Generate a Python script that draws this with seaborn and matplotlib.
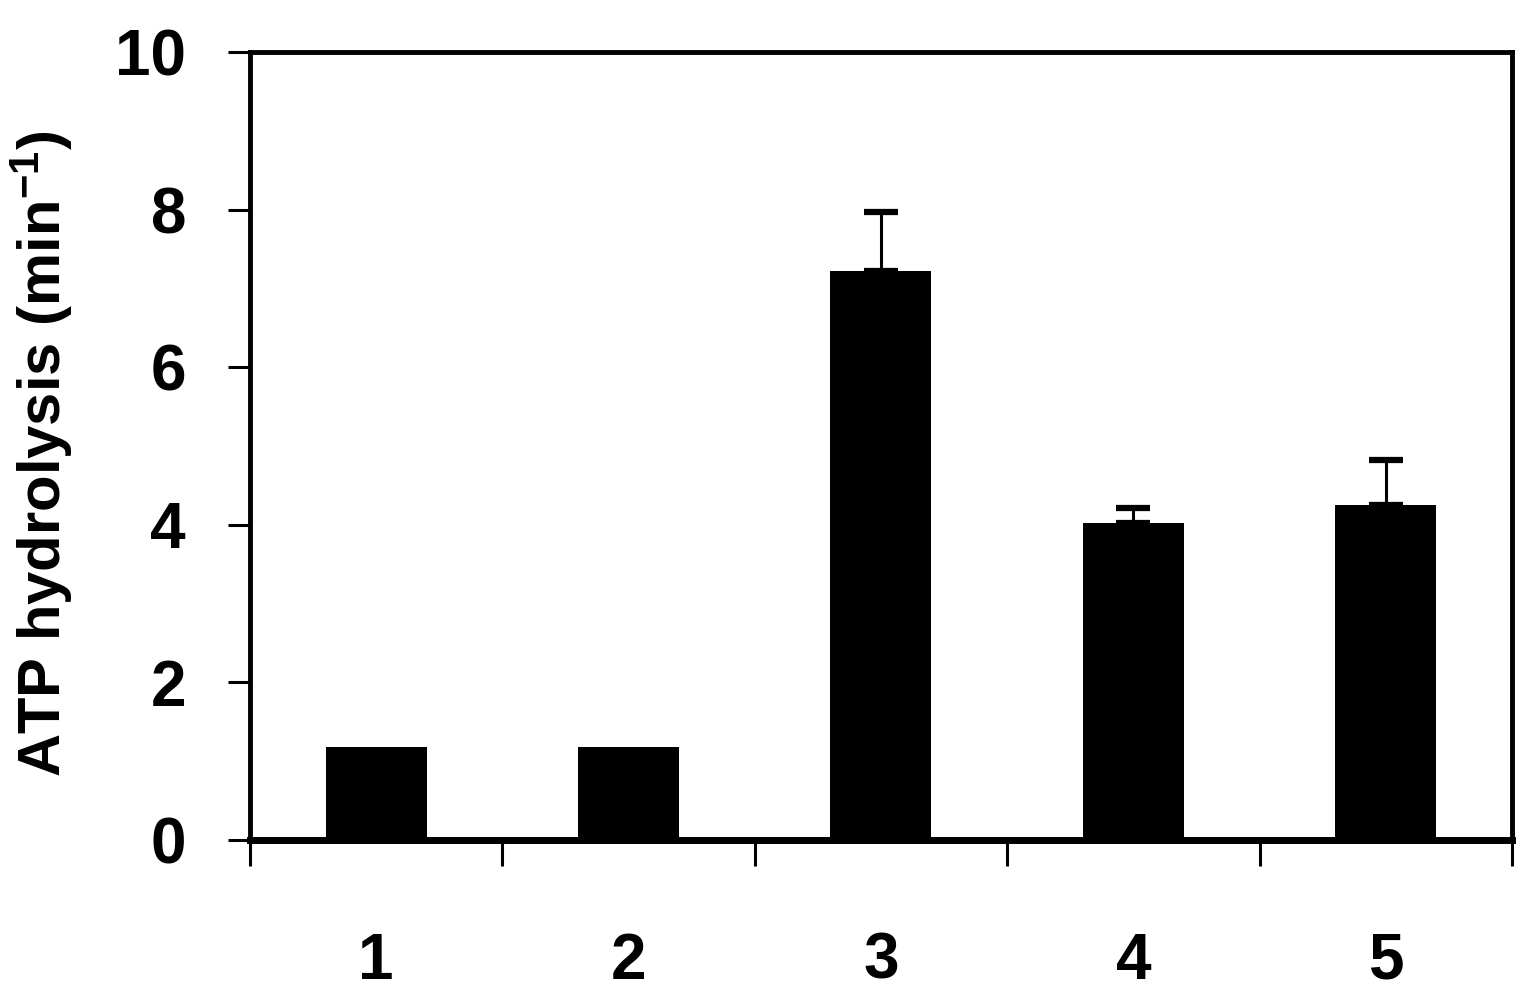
import numpy as np
import pandas as pd
import matplotlib
matplotlib.use("Agg")
import matplotlib.pyplot as plt
import seaborn as sns

# values
conditions = ["1", "2", "3", "4", "5"]
atp_rate = [1.18, 1.18, 7.22, 4.02, 4.25]
atp_err = [0.0, 0.0, 0.75, 0.19, 0.57]

df = pd.DataFrame({"condition": conditions, "rate": atp_rate})

sns.set_style("ticks")
plt.rcParams["font.family"] = ["Liberation Sans", "DejaVu Sans"]
plt.rcParams["font.weight"] = "bold"
plt.rcParams["mathtext.fontset"] = "custom"
plt.rcParams["mathtext.rm"] = "Liberation Sans:bold"
plt.rcParams["mathtext.default"] = "rm"
for k in ["text.color", "axes.labelcolor", "xtick.color", "ytick.color", "axes.edgecolor"]:
    plt.rcParams[k] = "black"

fig = plt.figure(figsize=(15.26, 10), dpi=100)
ax = fig.add_axes([0.1638, 0.16, 0.9908 - 0.1638, 0.948 - 0.16])

sns.barplot(data=df, x="condition", y="rate", color="black", width=0.4,
            saturation=1, edgecolor="black", linewidth=0, errorbar=None, ax=ax)

# upper-only error bars where there is an error
err = np.array(atp_err)
xs = np.arange(len(conditions))
has = err > 0
ax.errorbar(xs[has], np.array(atp_rate)[has],
            yerr=[np.zeros(has.sum()), err[has]],
            fmt="none", ecolor="black", elinewidth=2.2, capsize=12, capthick=4.5)

ax.set_ylim(0, 10)
ax.set_xlim(-0.5, 4.5)
ax.set_yticks([0, 2, 4, 6, 8, 10])

# major ticks at category boundaries, labels on minor ticks at centres
ax.set_xticks(np.arange(-0.5, 5, 1.0))
ax.set_xticklabels([])
ax.set_xticks(xs, minor=True)
ax.set_xticklabels(conditions, minor=True)
ax.tick_params(axis="x", which="major", length=19, width=2.2, direction="out")
ax.tick_params(axis="x", which="minor", length=0, pad=66, labelsize=46)
ax.tick_params(axis="y", length=16, width=2.2, direction="out", pad=30, labelsize=46)

for name, sp in ax.spines.items():
    sp.set_visible(True)
    sp.set_color("black")
    sp.set_linewidth(3.5)
ax.spines["bottom"].set_linewidth(5)

ax.set_xlabel("")
ax.set_ylabel("ATP hydrolysis (min$^{-1}$)", fontsize=43, fontweight="bold")
ax.yaxis.set_label_coords(-0.139, 0.49)

fig.savefig("out.png", dpi=100, facecolor="white")
